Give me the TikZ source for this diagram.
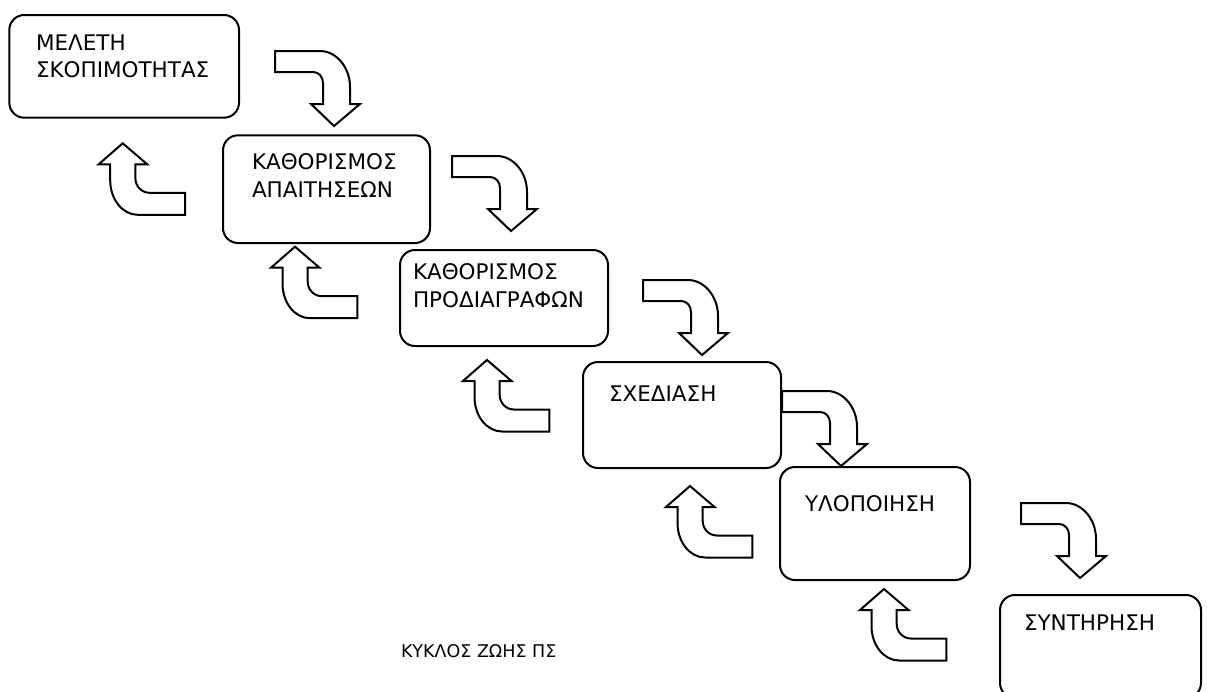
\documentclass[tikz,border=0pt]{standalone}
\usepackage{fontspec}
\setmainfont{DejaVu Sans}
\begin{document}
\begin{tikzpicture}[x=1pt, y=-1pt, line width=2pt, line join=miter,
  stage/.style={draw, rounded corners=15pt, anchor=north west, inner sep=0pt},
  % multi-line labels are placed by the baseline of their last line
  stagetext/.style={anchor=base west, inner sep=0pt, align=left,
    font=\fontsize{21.5}{27.3}\selectfont},
  captiontext/.style={anchor=base west, inner sep=0pt,
    font=\fontsize{17.5}{21}\selectfont},
  blockarrow/.style={draw, fill=white, line width=2pt},
  % bent block arrow pointing down; origin at the tip
  bentdown/.pic={
    \path[blockarrow] (0,0) -- (26,-22) -- (16,-22) -- (16,-39)
      .. controls (16,-59) and (2,-75) .. (-14,-75) -- (-59,-75) -- (-59,-54)
      -- (-21,-54) .. controls (-15.5,-54) and (-11,-49.5) .. (-11,-43)
      -- (-11,-22) -- (-23,-22) -- cycle;
  },
  % bent block arrow pointing up; origin at the tip
  bentup/.pic={
    \path[blockarrow] (0,0) -- (24.5,21) -- (12.7,21) -- (12.7,35)
      .. controls (12.7,43) and (19,49.5) .. (27,49.5) -- (62.3,49.5)
      -- (62.3,71.5) -- (15,71.5)
      .. controls (-0.2,71.5) and (-12.5,56) .. (-12.5,37)
      -- (-12.5,21) -- (-24,21) -- cycle;
  }]
\useasboundingbox (0,0) rectangle (1207,691);

% stages of the life cycle
\node[stage, minimum width=229.7pt, minimum height=102.7pt] (s1) at (8.3,14) {};
\node[stage, minimum width=207pt,   minimum height=107.7pt] (s2) at (222,134.3) {};
\node[stage, minimum width=208pt,   minimum height=96pt]    (s3) at (399,249) {};
\node[stage, minimum width=198pt,   minimum height=106pt]   (s4) at (582,361) {};
\node[stage, minimum width=190pt,   minimum height=113pt]   (s5) at (779,466) {};
\node[stage, minimum width=201pt,   minimum height=103pt]   (s6) at (999,594) {};

\node[stagetext] (t1) at (35,77.3)   {ΜΕΛΕΤΗ\\ΣΚΟΠΙΜΟΤΗΤΑΣ};
\node[stagetext] (t2) at (251,197)   {ΚΑΘΟΡΙΣΜΟΣ\\ΑΠΑΙΤΗΣΕΩΝ};
\node[stagetext] (t3) at (412,307)   {ΚΑΘΟΡΙΣΜΟΣ\\ΠΡΟΔΙΑΓΡΑΦΩΝ};
\node[stagetext] (t4) at (608,401)   {ΣΧΕΔΙΑΣΗ};
\node[stagetext] (t5) at (804,511.7) {ΥΛΟΠΟΙΗΣΗ};
\node[stagetext] (t6) at (1023,630.7){ΣΥΝΤΗΡΗΣΗ};

% forward arrows
\pic (d1) at (334,126)  {bentdown};
\pic (d2) at (511,231)  {bentdown};
\pic (d3) at (702,355)  {bentdown};
\pic (d4) at (841,466)  {bentdown};
\pic (d5) at (1080,578) {bentdown};

% feedback arrows
\pic (u1) at (122.7,143.3) {bentup};
\pic (u2) at (295,246.7)   {bentup};
\pic (u3) at (487,360)     {bentup};
\pic (u4) at (690,486)     {bentup};
\pic (u5) at (884,589)     {bentup};

\node[captiontext] (cap) at (400,657) {ΚΥΚΛΟΣ ΖΩΗΣ ΠΣ};
\end{tikzpicture}
\end{document}
